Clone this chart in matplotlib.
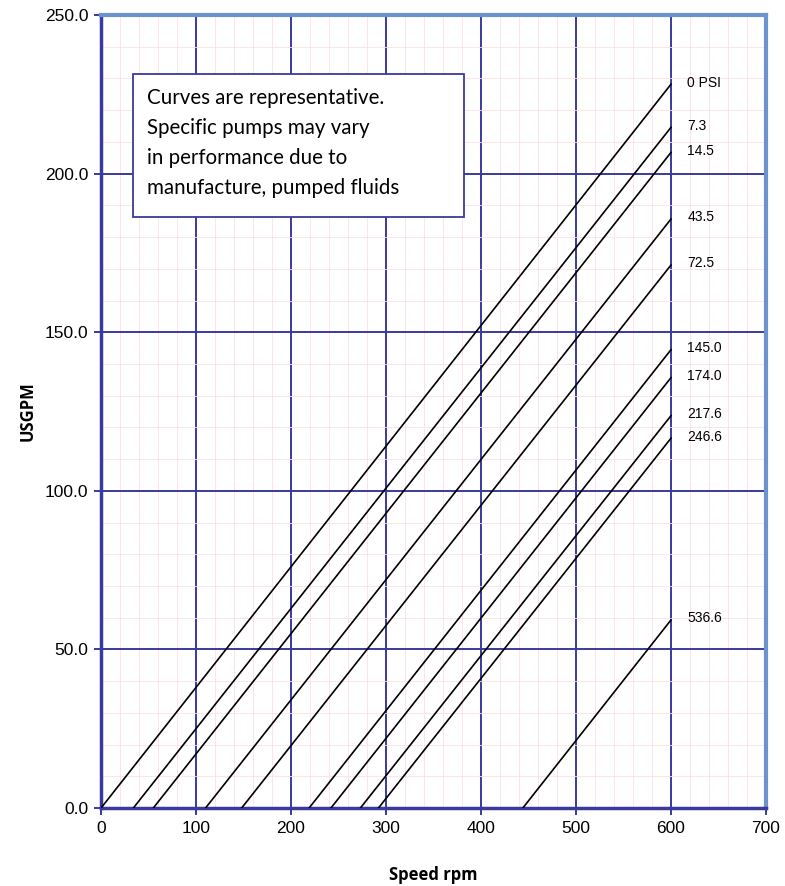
import numpy as np
import matplotlib
matplotlib.use("Agg")
import matplotlib.pyplot as plt
from matplotlib.patches import Rectangle

# pressure curves: x-intercept (rpm at 0 flow) and flow at 600 rpm
labels = ["0 PSI", "7.3", "14.5", "43.5", "72.5", "145.0", "174.0", "217.6", "246.6", "536.6"]
start_rpm = [0, 34, 55, 110, 148, 219, 242, 273, 292, 444]
gpm_at_600 = [228.2, 214.6, 206.7, 185.7, 171.2, 144.5, 135.7, 123.7, 116.6, 59.3]
end_rpm = 600

navy = "#3a3a9c"
light = "#6a93cf"
pink = "#fbe0e0"

fig = plt.figure(figsize=(7.85, 8.86), dpi=100)
ax = fig.add_axes([0.1287, 0.088, 0.8471, 0.895])

for lab, x0, y1 in zip(labels, start_rpm, gpm_at_600):
    ax.plot([x0, end_rpm], [0, y1], color="black", lw=1.2, zorder=3)
    ax.text(617, y1 + 0.5, lab, fontsize=10, family="Liberation Sans",
            va="center", ha="left", zorder=4)

ax.set_xlim(0, 700)
ax.set_ylim(0, 250)
ax.set_xticks(np.arange(0, 701, 100))
ax.set_yticks(np.arange(0, 251, 50))
ax.set_xticks(np.arange(0, 701, 20), minor=True)
ax.set_yticks(np.arange(0, 251, 10), minor=True)
ax.grid(which="minor", color=pink, lw=0.6, zorder=0)
ax.grid(which="major", color=navy, lw=1.4, zorder=1)
ax.set_xticklabels([str(v) for v in range(0, 701, 100)], family="Liberation Sans", fontsize=12.5)
ax.set_yticklabels(["%.1f" % v for v in np.arange(0, 251, 50)], family="Liberation Sans", fontsize=12.5)

ax.tick_params(which="major", length=5, width=1.4, color=navy, pad=4)
ax.tick_params(which="minor", length=0)

ax.spines["left"].set_color(navy)
ax.spines["bottom"].set_color(navy)
ax.spines["left"].set_linewidth(2.5)
ax.spines["bottom"].set_linewidth(2.5)
ax.spines["top"].set_color(light)
ax.spines["right"].set_color(light)
ax.spines["top"].set_linewidth(3)
ax.spines["right"].set_linewidth(3)

ax.set_xlabel("Speed rpm", fontsize=12, fontweight="bold", family="Open Sans", labelpad=22)
ax.set_ylabel("USGPM", fontsize=12, fontweight="bold", family="Open Sans", labelpad=6)

ax.add_patch(Rectangle((33.7, 186.4), 348.3, 45.0, fc="white", ec=navy, lw=1.3, zorder=5))
note = ("Curves are representative.\nSpecific pumps may vary\n"
        "in performance due to\nmanufacture, pumped fluids")
ax.text(48.5, 227.0, note, fontsize=14.8, family="Lato", va="top", ha="left",
        linespacing=1.62, zorder=6)

fig.savefig("out.png", dpi=100)
